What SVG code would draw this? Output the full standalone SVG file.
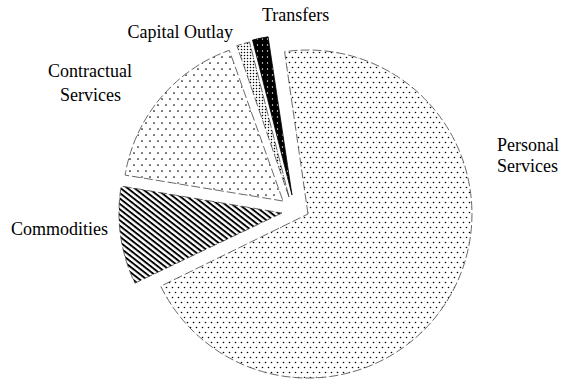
<svg xmlns="http://www.w3.org/2000/svg" width="561" height="382" viewBox="0 0 561 382">
  <style>
    .lbl { font-family: "Liberation Serif", "Times New Roman", serif; font-size: 18px; fill: #000; }
    .edge { stroke: #444; stroke-width: 0.8; stroke-dasharray: 9 3; stroke-linejoin: round; }
  </style>
  <defs>
    <pattern id="dotsP" width="6" height="10" patternUnits="userSpaceOnUse">
      <circle cx="1.5" cy="2.5" r="0.8" fill="#000"/>
      <circle cx="4.5" cy="7.5" r="0.8" fill="#000"/>
    </pattern>
    <pattern id="dotsC" width="8" height="12" patternUnits="userSpaceOnUse">
      <circle cx="2" cy="3" r="0.85" fill="#000"/>
      <circle cx="6" cy="9" r="0.85" fill="#000"/>
    </pattern>
    <pattern id="fine" width="3" height="3" patternUnits="userSpaceOnUse">
      <circle cx="1.5" cy="1.5" r="0.75" fill="#000"/>
    </pattern>
    <pattern id="dark" width="5" height="6" patternUnits="userSpaceOnUse">
      <rect width="5" height="6" fill="#000"/>
      <circle cx="2.5" cy="3" r="0.7" fill="#fff"/>
    </pattern>
    <pattern id="hatch" width="4.3" height="4.3" patternUnits="userSpaceOnUse" patternTransform="rotate(38)">
      <rect x="0" y="0" width="4.3" height="1.9" fill="#000"/>
    </pattern>
  </defs>
  <rect width="561" height="382" fill="#fff"/>

  <g id="slice-personal">
    <path class="edge" fill="url(#dotsP)" d="M308,214 L284.6,51.7 A164,164 0 1 1 160.7,286.2 Z"/>
  </g>
  <g id="slice-commodities">
    <path class="edge" fill="url(#hatch)" d="M282,213 L134.9,283.2 A163,163 0 0 1 121.2,186.1 Z"/>
  </g>
  <g id="slice-contractual">
    <path class="edge" fill="url(#dotsC)" d="M283,201 L125.1,175.1 A160,160 0 0 1 229.3,50.3 Z"/>
  </g>
  <g id="slice-capital">
    <path class="edge" fill="url(#fine)" d="M289,197 L236.9,45.7 A160,160 0 0 1 249.5,42 Z"/>
  </g>
  <g id="slice-transfers">
    <path fill="url(#dark)" stroke="#000" stroke-width="0.8" d="M292,195 L252.5,40 A160,160 0 0 1 268.1,36.8 Z"/>
  </g>

  <g id="connectors"></g>

  <g id="labels">
    <text class="lbl" x="262" y="21">Transfers</text>
    <text class="lbl" x="233" y="38" text-anchor="end">Capital Outlay</text>
    <text class="lbl" x="132" y="77" text-anchor="end">Contractual</text>
    <text class="lbl" x="121" y="101" text-anchor="end">Services</text>
    <text class="lbl" x="108" y="235" text-anchor="end">Commodities</text>
    <text class="lbl" x="497" y="151">Personal</text>
    <text class="lbl" x="497" y="172">Services</text>
  </g>
</svg>
